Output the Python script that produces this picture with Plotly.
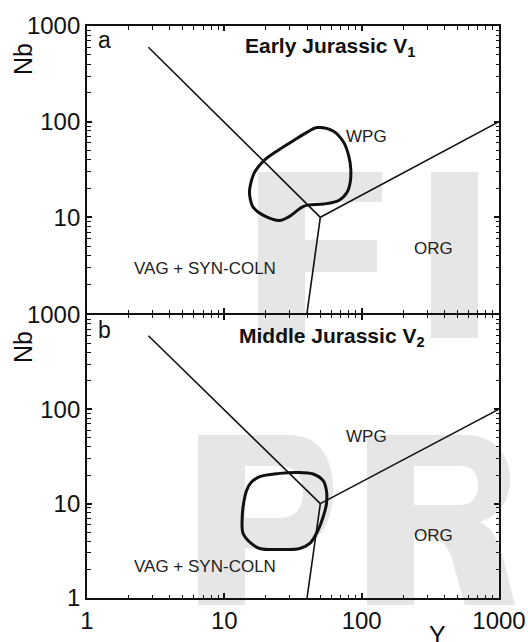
import math
import plotly.graph_objects as go

# ---------------- data ----------------
# discrimination boundaries (Y, Nb)
vag_wpg_Y = [2.8, 50]
vag_wpg_Nb = [600, 10]
wpg_org_Y = [50, 1000]
wpg_org_Nb = [10, 100]
vag_org_Y = [50, 40]
vag_org_Nb = [10, 1]

# field outline, panel a (Early Jurassic V1)
a_Y = [15.3, 16.6, 19.7, 25.3, 31.6, 39.6, 47.3, 61.9, 74.1, 80.5, 83.3, 82.6,
       78.3, 68.1, 53.0, 41.2, 36.8, 33.0, 29.4, 25.5, 20.3, 16.2, 15.3, 15.3]
a_Nb = [19.8, 29.5, 39.9, 51.5, 62.9, 76.9, 86.7, 79.9, 60.5, 43.9, 32.0, 23.4,
        18.3, 15.0, 13.8, 13.5, 12.8, 11.4, 10.1, 9.29, 10.1, 12.8, 16.9, 19.8]

# field outline, panel b (Middle Jurassic V2)
b_Y = [14.5, 15.7, 18.1, 25.3, 33.5, 44.3, 52.4, 55.4, 55.4, 52.4, 48.1, 41.9,
       35.4, 25.3, 18.1, 15.7, 13.7, 13.5, 13.8, 14.5]
b_Nb = [13.7, 16.8, 19.3, 20.9, 21.4, 20.6, 17.5, 13.7, 9.95, 7.2, 5.2, 3.78,
        3.35, 3.26, 3.35, 3.78, 4.82, 7.2, 9.95, 13.7]

tick_vals = [1, 10, 100, 1000]
tick_text = ["1", "10", "100", "1000"]
top_y_ticks = [10, 100, 1000]
top_y_text = ["10", "100", "1000"]
minor_vals = [2, 3, 4, 5, 6, 7, 8, 9,
              20, 30, 40, 50, 60, 70, 80, 90,
              200, 300, 400, 500, 600, 700, 800, 900]

region_labels = ["WPG", "ORG", "VAG + SYN-COLN"]
a_label_Y = [108, 335, 7.26]
a_label_Nb = [70, 4.77, 2.92]
b_label_Y = [108, 335, 7.26]
b_label_Nb = [51.8, 4.62, 2.16]

panel_titles = ["<b>Early Jurassic V<sub>1</sub></b>", "<b>Middle Jurassic V<sub>2</sub></b>"]

# ---------------- layout helpers ----------------
W_FIG, H_FIG = 528, 642
L, R, T, B = 87, 29, 26, 44
PW = W_FIG - L - R
PH = H_FIG - T - B
LW = 1.8
SPLIT = (H_FIG - B - 313) / PH
SPLIT_B = SPLIT - LW / PH   # so the shared edge lines overlap instead of doubling


def px(x):
    return (x - L) / PW


def py(y):
    return (H_FIG - B - y) / PH


def path(cmds):
    out = []
    for c in cmds:
        if isinstance(c, str):
            out.append(c)
        else:
            out.append(f"{px(c[0]):.5f},{py(c[1]):.5f}")
    return " ".join(out)


FONT = "Liberation Sans, Arial, sans-serif"
BLACK = "#111111"

fig = go.Figure()

for xa, ya, fy, fnb in [("x", "y", a_Y, a_Nb), ("x2", "y2", b_Y, b_Nb)]:
    for bx, by in [(vag_wpg_Y, vag_wpg_Nb), (wpg_org_Y, wpg_org_Nb), (vag_org_Y, vag_org_Nb)]:
        fig.add_trace(go.Scatter(x=bx, y=by, mode="lines", xaxis=xa, yaxis=ya,
                                 line=dict(color=BLACK, width=1.6), showlegend=False,
                                 hoverinfo="skip"))
    fig.add_trace(go.Scatter(x=fy, y=fnb, mode="lines", xaxis=xa, yaxis=ya,
                             line=dict(color=BLACK, width=3, shape="spline", smoothing=1.0),
                             showlegend=False, hoverinfo="skip"))

# empty traces that carry the minor-tick overlay axes
for xa, ya in [("x3", "y3"), ("x4", "y4")]:
    fig.add_trace(go.Scatter(x=[], y=[], xaxis=xa, yaxis=ya, showlegend=False,
                             hoverinfo="skip"))

major = dict(type="log", range=[0, 3], showline=True, linecolor=BLACK, linewidth=LW,
             mirror="ticks", ticks="inside", ticklen=5, tickwidth=1.5, tickcolor=BLACK,
             showgrid=False, zeroline=False, automargin=False, tickmode="array",
             tickfont=dict(family=FONT, size=24, color=BLACK))
minor = dict(type="log", range=[0, 3], showline=False, mirror="ticks", ticks="inside",
             ticklen=3.5, tickwidth=1.3, tickcolor=BLACK,
             showgrid=False, zeroline=False, automargin=False, tickmode="array",
             tickvals=minor_vals, showticklabels=False)

fig.update_layout(
    width=W_FIG, height=H_FIG,
    margin=dict(l=L, r=R, t=T, b=B, autoexpand=False),
    paper_bgcolor="white", plot_bgcolor="rgba(0,0,0,0)",
    xaxis=dict(major, domain=[0, 1], anchor="y", tickvals=tick_vals, showticklabels=False),
    yaxis=dict(major, domain=[SPLIT, 1], anchor="x", tickvals=top_y_ticks,
               ticktext=top_y_text),
    xaxis2=dict(major, domain=[0, 1], anchor="y2", tickvals=tick_vals, ticktext=tick_text),
    yaxis2=dict(major, domain=[0, SPLIT_B], anchor="x2", tickvals=tick_vals,
                ticktext=tick_text),
    xaxis3=dict(minor, overlaying="x", anchor="y3"),
    yaxis3=dict(minor, overlaying="y", anchor="x3"),
    xaxis4=dict(minor, overlaying="x2", anchor="y4"),
    yaxis4=dict(minor, overlaying="y2", anchor="x4"),
)

annotations = []
for xa, ya, lx, ly in [("x", "y", a_label_Y, a_label_Nb), ("x2", "y2", b_label_Y, b_label_Nb)]:
    for txt, vx, vy in zip(region_labels, lx, ly):
        annotations.append(dict(text=txt, x=math.log10(vx), y=math.log10(vy), xref=xa, yref=ya,
                                showarrow=False, xanchor="center", yanchor="middle",
                                font=dict(family=FONT, size=17, color="#222222")))

for letter, title, ly_px, ty_px, tx_px in [("a", panel_titles[0], 40, 46.5, 243),
                                           ("b", panel_titles[1], 329.5, 336.5, 237)]:
    annotations.append(dict(text=letter, x=px(96), y=py(ly_px), xref="paper", yref="paper",
                            showarrow=False, xanchor="left", yanchor="middle",
                            font=dict(family=FONT, size=23, color=BLACK)))
    annotations.append(dict(text=title, x=px(tx_px), y=py(ty_px), xref="paper", yref="paper",
                            showarrow=False, xanchor="left", yanchor="middle",
                            font=dict(family=FONT, size=21, color=BLACK)))

for cy in [59, 347]:
    annotations.append(dict(text="Nb", x=px(23), y=py(cy), xref="paper", yref="paper",
                            showarrow=False, textangle=-90, xanchor="center", yanchor="middle",
                            font=dict(family=FONT, size=25, color=BLACK)))
annotations.append(dict(text="Y", x=px(437), y=py(619), xref="paper", yref="paper",
                        showarrow=False, xanchor="center", yanchor="top",
                        font=dict(family=FONT, size=25, color=BLACK)))
fig.update_layout(annotations=annotations)

# watermark letters (light grey, behind everything)
GREY = "#e6e6e6"
wm_paths = [
    ["M", (258, 172), "L", (382, 172), "L", (382, 202), "L", (305, 202), "L", (305, 240),
     "L", (377, 240), "L", (377, 272), "L", (305, 272), "L", (305, 338), "L", (258, 338), "Z"],
    ["M", (431, 172), "L", (478, 172), "L", (478, 338), "L", (431, 338), "Z"],
    ["M", (198, 435), "L", (288, 435), "C", (318, 435), (333, 455), (333, 490),
     "C", (333, 525), (318, 548), (288, 548), "L", (245, 548), "L", (245, 605),
     "L", (198, 605), "Z",
     "M", (245, 466), "L", (245, 518), "L", (280, 518), "C", (296, 518), (303, 507), (303, 492),
     "C", (303, 477), (296, 466), (280, 466), "Z"],
    ["M", (367, 435), "L", (465, 435), "C", (495, 435), (510, 455), (510, 480),
     "C", (510, 500), (500, 515), (480, 522), "C", (495, 530), (500, 545), (505, 565),
     "L", (515, 605), "L", (465, 605), "L", (455, 570), "C", (450, 545), (440, 535), (420, 535),
     "L", (414, 535), "L", (414, 605), "L", (367, 605), "Z",
     "M", (414, 466), "L", (414, 505), "L", (460, 505), "C", (472, 505), (478, 497), (478, 485),
     "C", (478, 473), (472, 466), (460, 466), "Z"],
]
fig.update_layout(shapes=[dict(type="path", path=path(p), xref="paper", yref="paper",
                               fillcolor=GREY, line=dict(width=0), layer="below")
                          for p in wm_paths])

fig.write_html("out.html", config={"displayModeBar": False},
               post_script="document.body.style.margin='0px';")
